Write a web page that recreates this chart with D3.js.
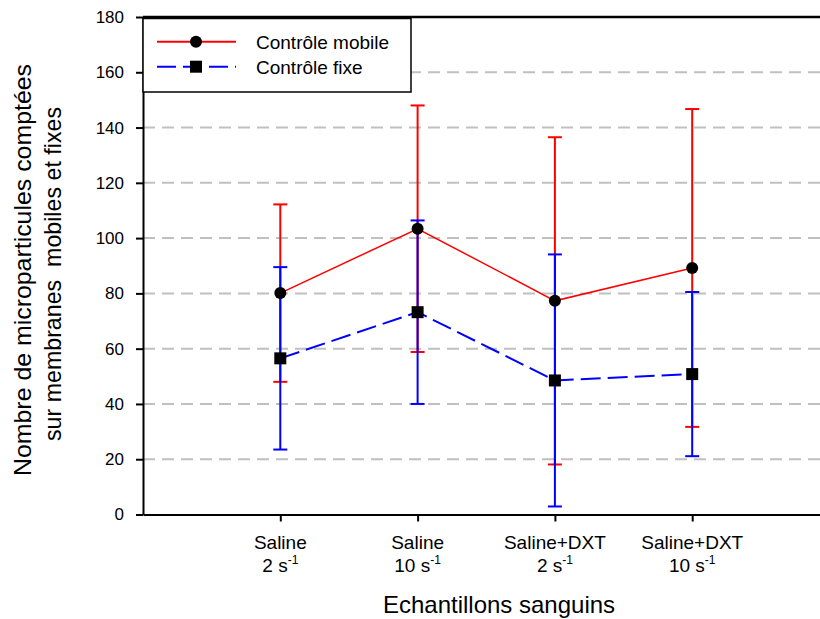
<!DOCTYPE html>
<html>
<head>
<meta charset="utf-8">
<script src="https://cdn.jsdelivr.net/npm/d3@7"></script>
<style>
  html, body { margin: 0; padding: 0; background: #fff; }
  svg { display: block; font-family: "Liberation Sans", Arial, sans-serif; }
</style>
</head>
<body>
<svg id="chart" width="820" height="619"></svg>
<script>
// Blood samples (x categories)
const groupNames = ["Saline", "Saline", "Saline+DXT", "Saline+DXT"];
const shearRates = ["2", "10", "2", "10"];

// Mean counts and standard deviations per sample
const mobileMean = [80.1, 103.4, 77.3, 89.2];
const mobileSD   = [32.1, 44.6, 59.2, 57.5];
const fixedMean  = [56.5, 73.2, 48.5, 50.8];
const fixedSD    = [33.0, 33.2, 45.6, 29.7];

const yTicks = [0, 20, 40, 60, 80, 100, 120, 140, 160, 180];
const gridTicks = [20, 40, 60, 80, 100, 120, 140, 160];

const legendLabels = ["Contrôle mobile", "Contrôle fixe"];

const W = 820, H = 619;
const plotLeft = 143, plotTop = 17, plotBottom = 514.5;

const svg = d3.select("#chart");

const x = d3.scaleLinear().domain([0, 5]).range([plotLeft, plotLeft + 5 * 137.3]);
const y = d3.scaleLinear().domain([0, 180]).range([plotBottom, plotTop]);

const idx = d3.range(groupNames.length);

// Grid lines
svg.append("g").selectAll("line").data(gridTicks).join("line")
  .attr("x1", plotLeft).attr("x2", W)
  .attr("y1", d => y(d)).attr("y2", d => y(d))
  .attr("stroke", "#c0c0c0").attr("stroke-width", 2)
  .attr("stroke-dasharray", "12,7");

// Frame: top border
svg.append("line")
  .attr("x1", plotLeft).attr("x2", W).attr("y1", y(180)).attr("y2", y(180))
  .attr("stroke", "#000").attr("stroke-width", 2.5);

// Left axis
const yAxis = svg.append("g")
  .attr("transform", `translate(${plotLeft},0)`)
  .call(d3.axisLeft(y).tickValues(yTicks).tickSize(7).tickPadding(12).tickSizeOuter(0));
yAxis.select(".domain").attr("stroke-width", 2);
yAxis.selectAll(".tick line").attr("stroke-width", 2);
yAxis.selectAll(".tick text")
  .attr("font-size", 17).attr("fill", "#000")
  .attr("font-family", "'Liberation Sans', Arial, sans-serif");

// Bottom axis
const xAxis = svg.append("g")
  .attr("transform", `translate(0,${plotBottom})`)
  .call(d3.axisBottom(x).tickValues([1, 2, 3, 4]).tickSize(7).tickSizeOuter(0).tickFormat(""));
xAxis.select(".domain").attr("stroke-width", 2);
xAxis.selectAll(".tick line").attr("stroke-width", 2);

// Category labels
const cat = svg.append("g").selectAll("g").data(idx).join("g")
  .attr("transform", i => `translate(${x(i + 1)},0)`);
cat.append("text")
  .attr("y", 548.5).attr("text-anchor", "middle").attr("font-size", 19)
  .text(i => groupNames[i]);
const rate = cat.append("text")
  .attr("y", 571.5).attr("text-anchor", "middle").attr("font-size", 19);
rate.append("tspan").text(i => shearRates[i] + " s");
rate.append("tspan").attr("font-size", 12).attr("dy", -8).text("-1");

// Axis titles
svg.append("text")
  .attr("x", 499).attr("y", 612.5).attr("text-anchor", "middle")
  .attr("font-size", 24).text("Echantillons sanguins");

svg.append("text")
  .attr("transform", "translate(31,270) rotate(-90)")
  .attr("text-anchor", "middle").attr("font-size", 24.5)
  .attr("textLength", 412).attr("lengthAdjust", "spacingAndGlyphs")
  .text("Nombre de microparticules comptées");
svg.append("text")
  .attr("transform", "translate(61,274) rotate(-90)")
  .attr("text-anchor", "middle").attr("font-size", 24)
  .attr("textLength", 334).attr("lengthAdjust", "spacingAndGlyphs")
  .attr("xml:space", "preserve").style("white-space", "pre")
  .text("sur membranes  mobiles et fixes");

// Error bars
function errorBars(mean, sd, color) {
  const g = svg.append("g").attr("stroke", color).attr("stroke-width", 2);
  g.selectAll("line.stem").data(idx).join("line").attr("class", "stem")
    .attr("x1", i => x(i + 1)).attr("x2", i => x(i + 1))
    .attr("y1", i => y(mean[i] + sd[i])).attr("y2", i => y(mean[i] - sd[i]));
  g.selectAll("line.capTop").data(idx).join("line").attr("class", "capTop")
    .attr("x1", i => x(i + 1) - 7).attr("x2", i => x(i + 1) + 7)
    .attr("y1", i => y(mean[i] + sd[i])).attr("y2", i => y(mean[i] + sd[i]));
  g.selectAll("line.capBot").data(idx).join("line").attr("class", "capBot")
    .attr("x1", i => x(i + 1) - 7).attr("x2", i => x(i + 1) + 7)
    .attr("y1", i => y(mean[i] - sd[i])).attr("y2", i => y(mean[i] - sd[i]));
}
errorBars(mobileMean, mobileSD, "#ff0000");
errorBars(fixedMean, fixedSD, "#0000ff");

// Series lines
svg.append("path")
  .datum(idx)
  .attr("d", d3.line().x(i => x(i + 1)).y(i => y(mobileMean[i])))
  .attr("fill", "none").attr("stroke", "#ff0000").attr("stroke-width", 1.5);
svg.append("path")
  .datum(idx)
  .attr("d", d3.line().x(i => x(i + 1)).y(i => y(fixedMean[i])))
  .attr("fill", "none").attr("stroke", "#0000ff").attr("stroke-width", 2)
  .attr("stroke-dasharray", "20,7");

// Markers
svg.append("g").selectAll("circle").data(idx).join("circle")
  .attr("cx", i => x(i + 1)).attr("cy", i => y(mobileMean[i]))
  .attr("r", 6).attr("fill", "#000");
svg.append("g").selectAll("rect").data(idx).join("rect")
  .attr("x", i => x(i + 1) - 6).attr("y", i => y(fixedMean[i]) - 6)
  .attr("width", 12).attr("height", 12).attr("fill", "#000");

// Legend
const lg = svg.append("g");
lg.append("rect")
  .attr("x", 143).attr("y", 18.5).attr("width", 268).attr("height", 73.5)
  .attr("fill", "#fff").attr("stroke", "#000").attr("stroke-width", 1.5);
lg.append("line")
  .attr("x1", 157).attr("x2", 236).attr("y1", 41.7).attr("y2", 41.7)
  .attr("stroke", "#ff0000").attr("stroke-width", 2);
lg.append("circle").attr("cx", 196).attr("cy", 41.7).attr("r", 6).attr("fill", "#000");
lg.append("line")
  .attr("x1", 157).attr("x2", 236).attr("y1", 66.7).attr("y2", 66.7)
  .attr("stroke", "#0000ff").attr("stroke-width", 2).attr("stroke-dasharray", "19,7");
lg.append("rect").attr("x", 190).attr("y", 60.7).attr("width", 12).attr("height", 12).attr("fill", "#000");
lg.selectAll("text").data(legendLabels).join("text")
  .attr("x", 256).attr("y", (d, i) => 49 + i * 25)
  .attr("font-size", 19).text(d => d);
</script>
</body>
</html>
